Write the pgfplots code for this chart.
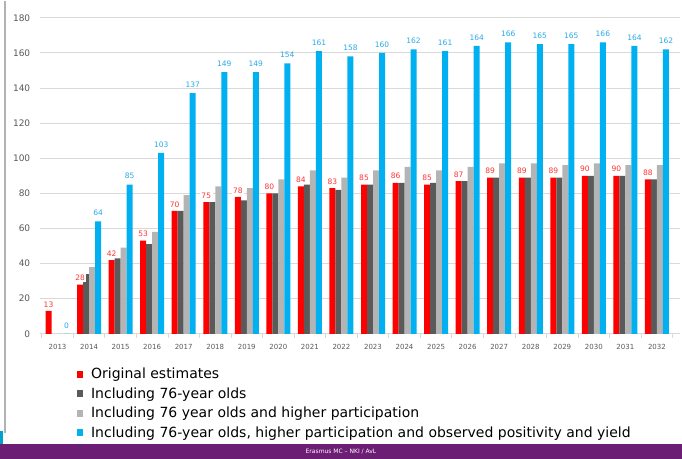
\documentclass[border=0pt]{standalone}
\usepackage{pgfplots}
\pgfplotsset{compat=1.18}
\usepackage{pgfplotstable}
\usepackage{fontspec}
\setmainfont{DejaVu Sans}
\definecolor{cred}{HTML}{FF0000}
\definecolor{cdark}{HTML}{5A5A5A}
\definecolor{clight}{HTML}{B4B4B4}
\definecolor{cblue}{HTML}{00B0F0}
\definecolor{cbluetxt}{HTML}{2AAAE8}
\definecolor{credtxt}{HTML}{FF3333}
\definecolor{cgrid}{HTML}{D9D9D9}
\definecolor{ctext}{HTML}{595959}
\definecolor{cpurple}{HTML}{6C1D74}
\pgfplotstableread{
year red dark light blue
2013 13 nan nan 0
2014 28 34 38 64
2015 42 43 49 85
2016 53 51 58 103
2017 70 70 79 137
2018 75 75 84 149
2019 78 76 83 149
2020 80 80 88 154
2021 84 85 93 161
2022 83 82 89 158
2023 85 85 93 160
2024 86 86 95 162
2025 85 86 93 161
2026 87 87 95 164
2027 89 89 97 166
2028 89 89 97 165
2029 89 89 96 165
2030 90 90 97 166
2031 90 90 96 164
2032 88 88 96 162
}\data
\begin{document}
\begin{tikzpicture}[x=1pt,y=1pt]
\fill[white] (0,0) rectangle (682,458);
\fill[cpurple] (0,0) rectangle (682,15);
\node[white,font=\fontsize{6}{7}\selectfont] at (341,7.5) {Erasmus MC – NKI / AvL};
\draw[black!30, line width=1.5pt] (5,26) -- (5,458);
\fill[cblue!70!teal] (0,15) rectangle (3,28);
\begin{axis}[
  at={(40pt,125pt)}, anchor=south west, scale only axis,
  width=640pt, height=316pt,
  xmin=2012.445, xmax=2032.73, ymin=0, ymax=180,
  ybar, bar width=6pt,
  ytick={0,20,...,180},
  xtick={2013,...,2032},
  minor xtick={2012.5,2013.5,...,2032.5},
  ymajorgrids, grid style={cgrid, line width=0.8pt},
  axis lines*=left,
  x axis line style={cgrid, line width=0.8pt},
  y axis line style={draw=none},
  major tick style={draw=none},
  minor tick style={cgrid, line width=0.8pt},
  minor tick length=4pt, tick align=outside,
  /pgf/number format/assume math mode=true,
  xticklabel style={/pgf/number format/1000 sep={}, font=\fontsize{7}{8}\selectfont, text=ctext, yshift=-3pt},
  yticklabel style={font=\fontsize{9}{10}\selectfont, text=ctext, xshift=-2pt},
  legend style={at={(axis description cs:0.053,-0.095)}, anchor=north west, draw=none, fill=none,
    font=\fontsize{14}{16}\selectfont, row sep=3.5pt, cells={anchor=west}},
  legend image code/.code={\fill[#1] (0pt,-3.5pt) rectangle (5.5pt,3.5pt); \path (12pt,0pt);},
]
\addplot[fill=cred, draw=none, bar shift=-9pt] table[x=year,y=red]{\data};
\addlegendentry{Original estimates}
\addplot[fill=cdark, draw=none, bar shift=-3pt] table[x=year,y=dark]{\data};
\addlegendentry{Including 76-year olds}
\addplot[fill=clight, draw=none, bar shift=3pt] table[x=year,y=light]{\data};
\addlegendentry{Including 76 year olds and higher participation}
\addplot[fill=cblue, draw=none, bar shift=9pt, nodes near coords,
  every node near coord/.append style={font=\fontsize{7.5}{8}\selectfont, text=cbluetxt, anchor=south, yshift=2pt}]
  table[x=year,y=blue]{\data};
\addlegendentry{Including 76-year olds, higher participation and observed positivity and yield}
\addplot[draw=none, fill=none, bar shift=-9pt, forget plot, nodes near coords,
  every node near coord/.append style={font=\fontsize{7.5}{8}\selectfont, text=credtxt, fill=white, inner sep=1.5pt, anchor=south, yshift=2pt}]
  table[x=year,y=red]{\data};
\end{axis}
\end{tikzpicture}
\end{document}
